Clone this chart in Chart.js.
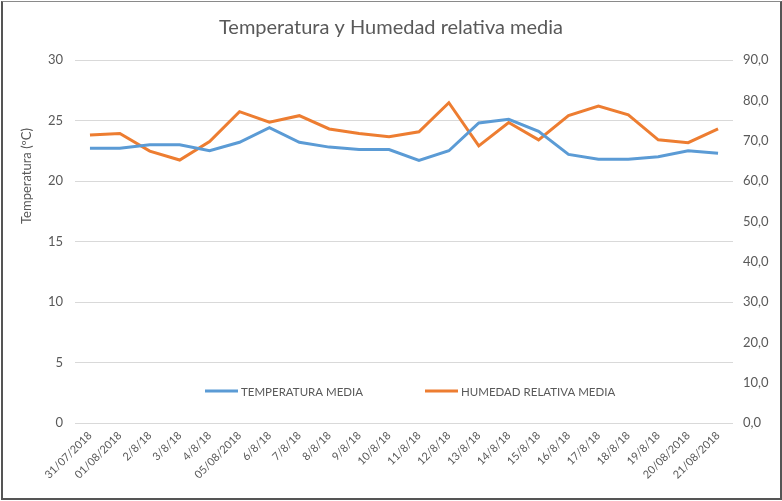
<!DOCTYPE html>
<html>
<head>
<meta charset="utf-8">
<script src="https://cdn.jsdelivr.net/npm/chart.js@4.4.1/dist/chart.umd.min.js"></script>
<style>
    body { margin: 0; background: #ffffff; }
    #wrap { position: relative; width: 782px; height: 501px; }
    #frame { position: absolute; left: 1px; top: 1px; width: 777px; height: 496px; border: 2px solid #555555; border-top: 1px solid #8a8a8a; pointer-events: none; }
</style>
</head>
<body>
<div id="wrap">
    <canvas id="chartTempHum" width="782" height="501"></canvas>
    <div id="frame"></div>
</div>
<script>
var dateLabels = ["31/07/2018", "01/08/2018", "2/8/18", "3/8/18", "4/8/18", "05/08/2018", "6/8/18", "7/8/18", "8/8/18", "9/8/18", "10/8/18",
    "11/8/18", "12/8/18", "13/8/18", "14/8/18", "15/8/18", "16/8/18", "17/8/18", "18/8/18", "19/8/18", "20/08/2018", "21/08/2018"];
var tempMedia = [22.7, 22.7, 23.0, 23.0, 22.5, 23.2, 24.4, 23.2, 22.8, 22.6, 22.6,
    21.7, 22.5, 24.8, 25.1, 24.1, 22.2, 21.8, 21.8, 22.0, 22.5, 22.3];
var humedadMedia = [71.4, 71.8, 67.4, 65.2, 69.8, 77.2, 74.6, 76.2, 72.9, 71.8, 71.0,
    72.2, 79.4, 68.7, 74.5, 70.2, 76.2, 78.6, 76.4, 70.2, 69.5, 72.9];
var tempTicks = [0, 5, 10, 15, 20, 25, 30];
var humTicks = [0, 10, 20, 30, 40, 50, 60, 70, 80, 90];

var fontName = "Lato, 'Open Sans', sans-serif";
var textColor = "#595959";

/*Legend drawn inside the plot area, like the Excel one*/
var innerLegend = {
    id: 'innerLegend',
    afterDatasetsDraw: function (chart) {
        var ctx = chart.ctx;
        var area = chart.chartArea;
        var y = area.bottom - 32;
        var starts = [area.left + 130, area.left + 350];
        ctx.save();
        ctx.font = "11.5px " + fontName;
        ctx.textBaseline = "middle";
        ctx.textAlign = "left";
        chart.data.datasets.forEach(function (ds, i) {
            var x = starts[i];
            ctx.strokeStyle = ds.borderColor;
            ctx.lineWidth = 3;
            ctx.beginPath();
            ctx.moveTo(x, y);
            ctx.lineTo(x + 33, y);
            ctx.stroke();
            ctx.fillStyle = textColor;
            ctx.fillText(ds.label, x + 36, y + 1);
        });
        ctx.restore();
    }
};

/*Left axis title, placed where Excel puts it*/
var leftAxisTitle = {
    id: 'leftAxisTitle',
    afterDraw: function (chart) {
        var ctx = chart.ctx;
        ctx.save();
        ctx.translate(27, 176);
        ctx.rotate(-Math.PI / 2);
        ctx.font = "13px " + fontName;
        ctx.fillStyle = textColor;
        ctx.textAlign = "center";
        ctx.textBaseline = "middle";
        ctx.fillText("Temperatura (ºC)", 0, 0);
        ctx.restore();
    }
};

var chartDiv = document.getElementById("chartTempHum");
var myChart = new Chart(chartDiv, {
    type: 'line',
    data: {
        labels: dateLabels,
        datasets: [
            {
                label: "TEMPERATURA MEDIA",
                data: tempMedia,
                yAxisID: 'yTemp',
                borderColor: "#5b9bd5",
                backgroundColor: "#5b9bd5",
                borderWidth: 3,
                pointRadius: 0,
                tension: 0
            },
            {
                label: "HUMEDAD RELATIVA MEDIA",
                data: humedadMedia,
                yAxisID: 'yHum',
                borderColor: "#ed7d31",
                backgroundColor: "#ed7d31",
                borderWidth: 3,
                pointRadius: 0,
                tension: 0
            }]
    },
    options: {
        responsive: false,
        animation: false,
        layout: { padding: 0 },
        plugins: {
            legend: { display: false },
            tooltip: { enabled: false },
            title: {
                display: true,
                text: 'Temperatura y Humedad relativa media',
                color: textColor,
                font: { family: fontName, size: 20, weight: 'normal' },
                padding: { top: 16, bottom: 20 }
            }
        },
        scales: {
            x: {
                offset: true,
                grid: { display: false, drawTicks: false },
                border: { display: false },
                ticks: {
                    autoSkip: false,
                    minRotation: 45,
                    maxRotation: 45,
                    padding: 6,
                    color: textColor,
                    font: { family: fontName, size: 11 }
                },
                afterFit: function (scale) { scale.height = 78; }
            },
            yTemp: {
                position: 'left',
                min: 0,
                max: 30,
                afterBuildTicks: function (scale) {
                    scale.ticks = tempTicks.map(function (v) { return { value: v }; });
                },
                grid: { color: "#d9d9d9", lineWidth: 1, drawTicks: false },
                border: { display: false },
                ticks: {
                    padding: 12,
                    color: textColor,
                    font: { family: fontName, size: 13 }
                },
                afterFit: function (scale) { scale.width = 75; }
            },
            yHum: {
                position: 'right',
                min: 0,
                max: 90,
                afterBuildTicks: function (scale) {
                    scale.ticks = humTicks.map(function (v) { return { value: v }; });
                },
                grid: { display: false, drawTicks: false },
                border: { display: false },
                ticks: {
                    padding: 10,
                    color: textColor,
                    font: { family: fontName, size: 13 },
                    callback: function (value) { return value.toFixed(1).replace('.', ','); }
                },
                afterFit: function (scale) { scale.width = 49; }
            }
        }
    },
    plugins: [innerLegend, leftAxisTitle]
});
</script>
</body>
</html>
